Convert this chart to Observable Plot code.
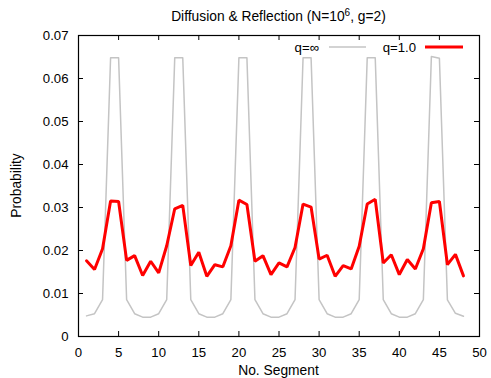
<!DOCTYPE html>
<html>
<head>
<meta charset="utf-8">
<script src="https://cdn.jsdelivr.net/npm/d3@7"></script>
<script src="https://cdn.jsdelivr.net/npm/@observablehq/plot@0.6"></script>
<style>
  html, body { margin: 0; padding: 0; background: #fff; }
  #chart svg { display: block; }
</style>
</head>
<body>
<div id="chart"></div>
<script>
const segments = d3.range(1, 49);
const qInf = [
  0.0048, 0.0053, 0.0086, 0.0648, 0.0648, 0.0086, 0.0053, 0.0045,
  0.0045, 0.0053, 0.0086, 0.0648, 0.0648, 0.0086, 0.0053, 0.0045,
  0.0045, 0.0053, 0.0086, 0.0648, 0.0648, 0.0086, 0.0053, 0.0045,
  0.0045, 0.0053, 0.0086, 0.0648, 0.0648, 0.0086, 0.0053, 0.0045,
  0.0045, 0.0053, 0.0086, 0.0648, 0.0648, 0.0086, 0.0053, 0.0045,
  0.0045, 0.0053, 0.0086, 0.0651, 0.0647, 0.0085, 0.0054, 0.0047
];
const q1 = [
  0.0176, 0.0156, 0.0204, 0.0315, 0.0314, 0.0177, 0.0188, 0.0142,
  0.0175, 0.0148, 0.0211, 0.0297, 0.0305, 0.0165, 0.0196, 0.0140,
  0.0167, 0.0162, 0.0211, 0.0317, 0.0307, 0.0175, 0.0188, 0.0144,
  0.0171, 0.0162, 0.0207, 0.0308, 0.0301, 0.0180, 0.0189, 0.0140,
  0.0165, 0.0157, 0.0210, 0.0308, 0.0319, 0.0171, 0.0190, 0.0144,
  0.0179, 0.0157, 0.0204, 0.0311, 0.0314, 0.0167, 0.0191, 0.0141
];
const xTicks = d3.range(0, 51, 5);
const yTicks = [0, 0.01, 0.02, 0.03, 0.04, 0.05, 0.06, 0.07];
const yTickLabels = ["0", "0.01", "0.02", "0.03", "0.04", "0.05", "0.06", "0.07"];

const W = 491, H = 378;
const mT = 35, mB = 42, mL = 78, mR = 12;
const innerW = W - mL - mR, innerH = H - mT - mB;
const tl = 5;

const dInf = segments.map((s, i) => ({x: s, y: qInf[i]}));
const d1 = segments.map((s, i) => ({x: s, y: q1[i]}));

const plot = Plot.plot({
  width: W, height: H,
  marginTop: mT, marginBottom: mB, marginLeft: mL, marginRight: mR,
  style: {fontFamily: "'Liberation Sans', Arial, sans-serif", fontSize: "13px", color: "#000", background: "#fff"},
  x: {domain: [0, 50]},
  y: {domain: [0, 0.07]},
  marks: [
    Plot.line(dInf, {x: "x", y: "y", stroke: "#c4c4c4", strokeWidth: 1.5}),
    Plot.line(d1, {x: "x", y: "y", stroke: "#ff0000", strokeWidth: 3, strokeLinejoin: "miter"}),
    Plot.tickX(xTicks, {x: d => d, stroke: "#000", insetTop: innerH - tl}),
    Plot.tickX(xTicks, {x: d => d, stroke: "#000", insetBottom: innerH - tl}),
    Plot.tickY(yTicks, {y: d => d, stroke: "#000", insetRight: innerW - tl}),
    Plot.tickY(yTicks, {y: d => d, stroke: "#000", insetLeft: innerW - tl}),
    Plot.axisX({ticks: xTicks, tickSize: 0, tickPadding: 11, label: null, fontSize: 13.2}),
    Plot.axisY({ticks: yTicks, tickSize: 0, tickPadding: 10, label: null, fontSize: 13.2,
      tickFormat: (d, i) => yTickLabels[yTicks.indexOf(d)]}),
    Plot.frame({stroke: "#000", strokeWidth: 1.2})
  ]
});
document.getElementById("chart").appendChild(plot);

const svg = d3.select(plot);
const ff = "'Liberation Sans', Arial, sans-serif";
const cx = mL + innerW / 2;

// title
const t = svg.append("text").attr("x", cx).attr("y", 21).attr("text-anchor", "middle")
  .attr("font-family", ff).attr("font-size", 13.8).attr("fill", "#000");
t.append("tspan").text("Diffusion & Reflection (N=10");
t.append("tspan").attr("dy", -5).attr("font-size", 10).text("6");
t.append("tspan").attr("dy", 5).text(", g=2)");

// axis labels
svg.append("text").attr("x", cx).attr("y", 375).attr("text-anchor", "middle")
  .attr("font-family", ff).attr("font-size", 13.8).attr("fill", "#000").text("No. Segment");
svg.append("text").attr("transform", `translate(21,${mT + innerH / 2}) rotate(-90)`)
  .attr("text-anchor", "middle").attr("font-family", ff).attr("font-size", 13.8).attr("fill", "#000")
  .text("Probability");

// legend
const ly = 47;
svg.append("text").attr("x", 319).attr("y", ly).attr("dy", "0.35em").attr("text-anchor", "end")
  .attr("font-family", ff).attr("font-size", 13.2).attr("fill", "#000").text("q=∞");
svg.append("line").attr("x1", 329).attr("x2", 366).attr("y1", ly).attr("y2", ly)
  .attr("stroke", "#c4c4c4").attr("stroke-width", 1.5);
svg.append("text").attr("x", 416).attr("y", ly).attr("dy", "0.35em").attr("text-anchor", "end")
  .attr("font-family", ff).attr("font-size", 13.2).attr("fill", "#000").text("q=1.0");
svg.append("line").attr("x1", 425).attr("x2", 463).attr("y1", ly).attr("y2", ly)
  .attr("stroke", "#ff0000").attr("stroke-width", 3);
</script>
</body>
</html>
